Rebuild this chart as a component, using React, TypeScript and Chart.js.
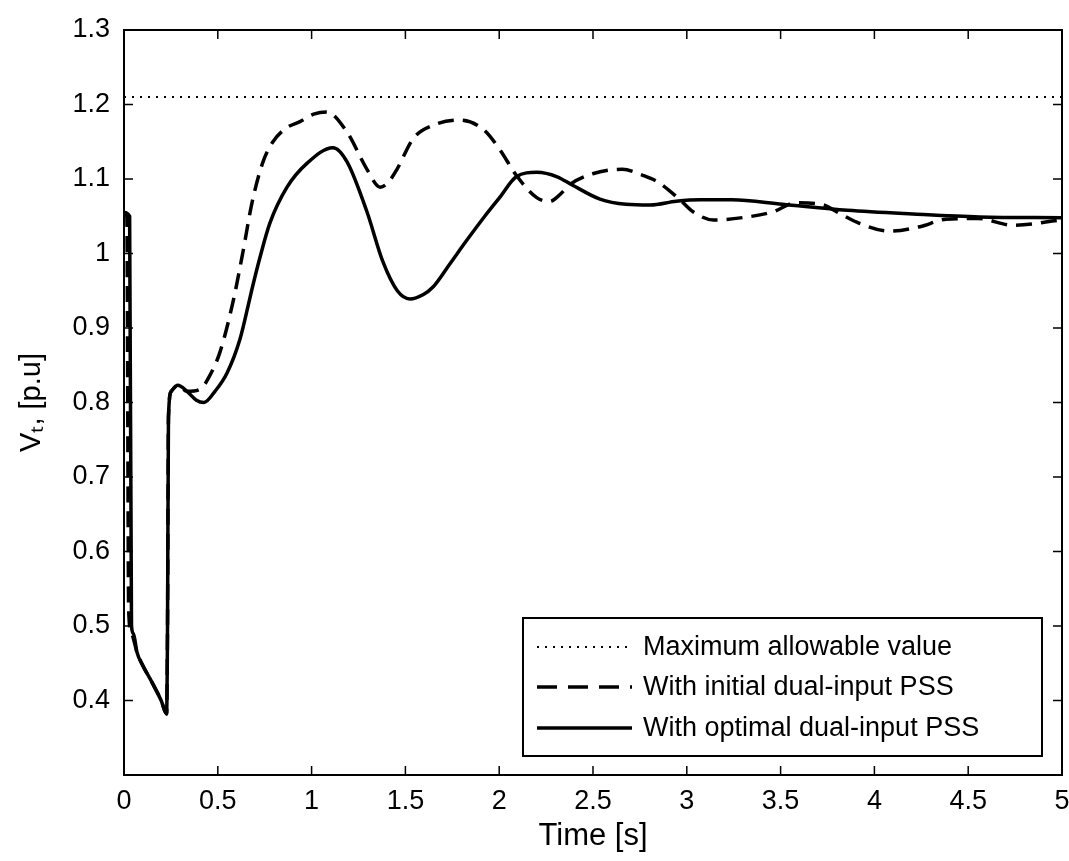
import React, { useEffect, useRef } from "react";
import { Chart, registerables } from "chart.js";

Chart.register(...registerables);

// ---- Data ----
const SERIES_LABELS = [
  "Maximum allowable value",
  "With initial dual-input PSS",
  "With optimal dual-input PSS",
];

const T_MAX = [0, 5];
const V_MAX = [1.21, 1.21];

const T_INIT = [
  0, 0.015, 0.025, 0.04, 0.069, 0.098, 0.148, 0.198, 0.227, 0.232, 0.237, 0.252,
  0.287, 0.336, 0.406, 0.455, 0.512, 0.581, 0.634, 0.683, 0.741, 0.794, 0.862,
  0.938, 1.011, 1.08, 1.189, 1.295, 1.365, 1.407, 1.455, 1.541, 1.647, 1.791,
  1.913, 2.002, 2.091, 2.2, 2.27, 2.319, 2.379, 2.498, 2.656, 2.765, 2.845,
  2.964, 3.033, 3.142, 3.321, 3.46, 3.578, 3.717, 3.806, 3.906, 4.084, 4.243,
  4.382, 4.55, 4.739, 5.0,
];
const V_INIT = [
  1.055, 1.05, 0.52, 0.49, 0.465, 0.448, 0.425, 0.4, 0.382, 0.5, 0.78, 0.815,
  0.823, 0.815, 0.818, 0.835, 0.868, 0.935, 1.002, 1.069, 1.123, 1.15, 1.168,
  1.177, 1.187, 1.19, 1.163, 1.113, 1.089, 1.095, 1.113, 1.154, 1.172, 1.179,
  1.167, 1.14, 1.105, 1.075, 1.07, 1.078, 1.093, 1.107, 1.113, 1.105, 1.096,
  1.072, 1.056, 1.045, 1.049, 1.056, 1.068, 1.066, 1.055, 1.042, 1.03, 1.036,
  1.046, 1.047, 1.038, 1.045,
];

const T_OPT = [
  0, 0.03, 0.04, 0.05, 0.069, 0.098, 0.148, 0.198, 0.227, 0.232, 0.237, 0.252,
  0.287, 0.336, 0.386, 0.426, 0.485, 0.55, 0.618, 0.66, 0.682, 0.725, 0.778,
  0.869, 0.975, 1.114, 1.189, 1.295, 1.38, 1.457, 1.524, 1.596, 1.647, 1.734,
  1.828, 1.923, 2.002, 2.091, 2.2, 2.309, 2.389, 2.537, 2.676, 2.805, 2.944,
  3.073, 3.241, 3.509, 3.856, 4.203, 4.56, 5.0,
];
const V_OPT = [
  1.055, 1.05, 0.5, 0.49, 0.465, 0.448, 0.425, 0.4, 0.382, 0.5, 0.78, 0.815,
  0.823, 0.815, 0.803, 0.8, 0.815, 0.84, 0.885, 0.928, 0.952, 0.995, 1.041,
  1.089, 1.121, 1.142, 1.123, 1.056, 0.989, 0.95, 0.939, 0.945, 0.955, 0.985,
  1.018, 1.05, 1.075, 1.103, 1.109, 1.103, 1.092, 1.073, 1.066, 1.065, 1.07,
  1.072, 1.072, 1.066, 1.058, 1.053, 1.049, 1.048,
];

const X_MIN = 0;
const X_MAX = 5;
const X_STEP = 0.5;
const Y_MIN = 0.3;
const Y_MAX = 1.3;
const Y_STEP = 0.1;

const X_TITLE = "Time [s]";
const Y_TITLE = "V\u209C, [p.u]";

const FONT_FAMILY = "'Liberation Sans', Arial, Helvetica, sans-serif";

const toPoints = (ts: number[], vs: number[]) =>
  ts.map((t, i) => ({ x: t, y: vs[i] }));

const fmt = (v: number) => String(Number(v.toFixed(2)));

// Frame with inward ticks on all four sides (MATLAB box style)
const framePlugin = {
  id: "matlabFrame",
  afterDatasetsDraw(chart: any) {
    const { ctx, chartArea, scales } = chart;
    const { left, right, top, bottom } = chartArea;
    const tl = 9;
    ctx.save();
    ctx.strokeStyle = "#000";
    ctx.lineWidth = 2;
    ctx.strokeRect(left, top, right - left, bottom - top);
    ctx.lineWidth = 1.5;
    ctx.beginPath();
    scales.x.ticks.forEach((t: any) => {
      const x = scales.x.getPixelForValue(t.value);
      ctx.moveTo(x, bottom);
      ctx.lineTo(x, bottom - tl);
      ctx.moveTo(x, top);
      ctx.lineTo(x, top + tl);
    });
    scales.y.ticks.forEach((t: any) => {
      const y = scales.y.getPixelForValue(t.value);
      ctx.moveTo(left, y);
      ctx.lineTo(left + tl, y);
      ctx.moveTo(right, y);
      ctx.lineTo(right - tl, y);
    });
    ctx.stroke();
    ctx.restore();
  },
};

// Legend box inside the lower right corner of the axes
const legendPlugin = {
  id: "matlabLegend",
  afterDraw(chart: any) {
    const { ctx, chartArea } = chart;
    const w = 519;
    const h = 138;
    const x1 = chartArea.right - 20;
    const y1 = chartArea.bottom - 19;
    const x0 = x1 - w;
    const y0 = y1 - h;
    ctx.save();
    ctx.fillStyle = "#fff";
    ctx.fillRect(x0, y0, w, h);
    ctx.strokeStyle = "#000";
    ctx.lineWidth = 2;
    ctx.strokeRect(x0, y0, w, h);
    const rowY = [29, 69, 110];
    chart.data.datasets.forEach((ds: any, i: number) => {
      const y = y0 + rowY[i];
      ctx.beginPath();
      ctx.strokeStyle = ds.borderColor;
      ctx.lineWidth = ds.borderWidth;
      ctx.setLineDash(i === 1 ? [20, 11] : ds.borderDash || []);
      ctx.moveTo(x0 + 14, y);
      ctx.lineTo(x0 + 109, y);
      ctx.stroke();
      ctx.setLineDash([]);
      ctx.fillStyle = "#000";
      ctx.font = `27px ${FONT_FAMILY}`;
      ctx.textAlign = "left";
      ctx.textBaseline = "middle";
      ctx.fillText(ds.label, x0 + 120, y + 1);
    });
    ctx.restore();
  },
};

export default function App() {
  const ref = useRef<HTMLCanvasElement>(null);

  useEffect(() => {
    if (!ref.current) return;
    const chart = new Chart(ref.current, {
      type: "line",
      data: {
        datasets: [
          {
            label: SERIES_LABELS[0],
            data: toPoints(T_MAX, V_MAX),
            borderColor: "#000",
            borderWidth: 2,
            borderDash: [2, 6],
            pointRadius: 0,
            fill: false,
          },
          {
            label: SERIES_LABELS[1],
            data: toPoints(T_INIT, V_INIT),
            borderColor: "#000",
            borderWidth: 3.5,
            borderDash: [16, 9],
            pointRadius: 0,
            fill: false,
            cubicInterpolationMode: "monotone",
          },
          {
            label: SERIES_LABELS[2],
            data: toPoints(T_OPT, V_OPT),
            borderColor: "#000",
            borderWidth: 3.5,
            pointRadius: 0,
            fill: false,
            cubicInterpolationMode: "monotone",
          },
        ],
      },
      options: {
        animation: false,
        responsive: false,
        maintainAspectRatio: false,
        layout: { padding: { left: 0, top: 30, right: 7, bottom: 0 } },
        plugins: {
          legend: { display: false },
          tooltip: { enabled: false },
        },
        scales: {
          x: {
            type: "linear",
            min: X_MIN,
            max: X_MAX,
            grid: { display: false, drawTicks: false },
            border: { display: false },
            ticks: {
              stepSize: X_STEP,
              color: "#000",
              padding: 10,
              maxRotation: 0,
              font: { family: FONT_FAMILY, size: 27 },
              callback: (v: any) => fmt(Number(v)),
            },
            title: {
              display: true,
              text: X_TITLE,
              color: "#000",
              font: { family: FONT_FAMILY, size: 31 },
              padding: { top: 0, bottom: 6 },
            },
            afterFit: (axis: any) => {
              axis.height = 86;
              axis.paddingLeft = 0;
              axis.paddingRight = 0;
            },
          },
          y: {
            type: "linear",
            min: Y_MIN,
            max: Y_MAX,
            grid: { display: false, drawTicks: false },
            border: { display: false },
            ticks: {
              stepSize: Y_STEP,
              color: "#000",
              padding: 14,
              font: { family: FONT_FAMILY, size: 27 },
              callback: (v: any) => (Number(v) < Y_MIN + 0.05 ? "" : fmt(Number(v))),
            },
            title: {
              display: true,
              text: Y_TITLE,
              color: "#000",
              font: { family: FONT_FAMILY, size: 29 },
              padding: { top: 15, bottom: 0 },
            },
            afterFit: (axis: any) => {
              axis.width = 124;
              axis.paddingTop = 0;
              axis.paddingBottom = 0;
            },
          },
        },
      },
      plugins: [framePlugin, legendPlugin],
    });
    return () => chart.destroy();
  }, []);

  return (
    <div
      style={{
        position: "absolute",
        left: 0,
        top: 0,
        width: 1069,
        height: 861,
        background: "#fff",
      }}
    >
      <canvas ref={ref} width={1069} height={861} style={{ display: "block" }} />
    </div>
  );
}
